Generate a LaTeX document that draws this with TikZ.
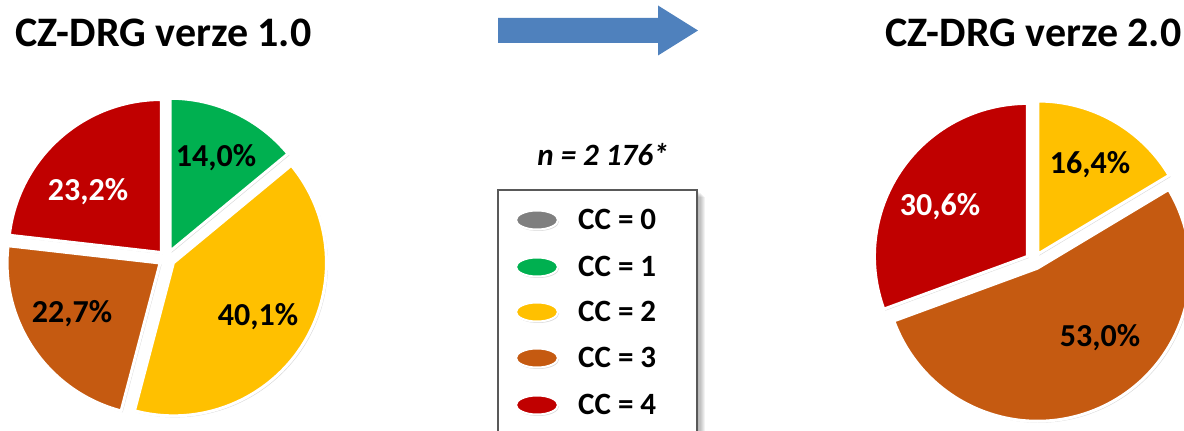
\documentclass[tikz,border=0pt]{standalone}
\usepackage{fontspec}
\setmainfont{Carlito}
\usetikzlibrary{shadows,shapes.geometric}
\definecolor{cgreen}{HTML}{00B050}
\definecolor{cyellow}{HTML}{FFC000}
\definecolor{corange}{HTML}{C55A11}
\definecolor{cred}{HTML}{C00000}
\definecolor{cgray}{HTML}{7F7F7F}
\definecolor{carrow}{HTML}{4F81BD}
\definecolor{cborder}{HTML}{595959}
\tikzset{
  slicestyle/.style={draw=white, line width=3pt, line join=miter,
    drop shadow={shadow xshift=1.5pt, shadow yshift=-1.5pt, opacity=0.3}},
  pct/.style={font=\fontsize{32}{34}\selectfont\bfseries, text=black, inner sep=0pt},
  pctw/.style={pct, text=white},
  ttl/.style={font=\fontsize{42}{46}\selectfont\bfseries, anchor=base west, inner sep=0pt},
  legtxt/.style={font=\fontsize{31}{34}\selectfont\bfseries, anchor=base west, inner sep=0pt},
  legdot/.style={ellipse, draw=white, line width=2pt, minimum width=42pt, minimum height=19pt, inner sep=0pt,
    drop shadow={shadow xshift=1pt, shadow yshift=-1.5pt, opacity=0.3}},
}
\newcommand{\pieslice}[5]{%
  \pgfmathsetmacro\midang{(#3+#4)/2}%
  \begin{scope}[shift={(#1,#2)}, shift={(\midang:8)}]
    \filldraw[slicestyle, fill=#5] (0,0) -- (#3:153) arc[start angle=#3, end angle=#4, radius=153] -- cycle;
  \end{scope}}
\begin{document}
\begin{tikzpicture}[x=1pt,y=1pt]
\useasboundingbox (0,0) rectangle (1184,431);
\clip (0,0) rectangle (1184,431);
\fill[white] (0,0) rectangle (1184,431);
% titles
\node[ttl] (t1) at (15,384) {CZ-DRG verze 1.0};
\node[ttl] (t2) at (885,384) {CZ-DRG verze 2.0};
% arrow
\fill[carrow] (498,388) -- (658,388) -- (658,375.5) -- (698,400.5) -- (658,425.5) -- (658,413) -- (498,413) -- cycle;
% left pie
\pieslice{166.7}{172.5}{39.6}{90}{cgreen}
\pieslice{166.7}{172.5}{-104.76}{39.6}{cyellow}
\pieslice{166.7}{172.5}{173.52}{255.24}{corange}
\pieslice{166.7}{172.5}{90}{173.52}{cred}
\node[pct]  (l1) at (216,273) {14,0\%};
\node[pctw] (l4) at (88,239) {23,2\%};
\node[pct]  (l3) at (72,117) {22,7\%};
\node[pct]  (l2) at (258,114) {40,1\%};
% right pie
\pieslice{1034}{170}{30.96}{90}{cyellow}
\pieslice{1034}{170}{-159.84}{30.96}{corange}
\pieslice{1034}{170}{90}{200.16}{cred}
\node[pct]  (r2) at (1090,266) {16,4\%};
\node[pctw] (r4) at (940,224) {30,6\%};
\node[pct]  (r3) at (1100,93) {53,0\%};
% legend
\node[font=\fontsize{31}{33}\selectfont\bfseries\itshape, anchor=base, inner sep=0pt] (n) at (603,265) {n = 2 176*};
\foreach \i in {1,...,7}{
  \fill[black, opacity=0.05] (498+\i*1.2,241-\i*1.0) rectangle (697+\i*1.2,-20);
}
\draw[cborder, line width=1.2pt, fill=white] (498,241) rectangle (697,-20);
\node[legdot, fill=cgray]   (d0) at (537,211) {};
\node[legdot, fill=cgreen]  (d1) at (537,164) {};
\node[legdot, fill=cyellow] (d2) at (537,119) {};
\node[legdot, fill=corange] (d3) at (537,73) {};
\node[legdot, fill=cred]    (d4) at (537,26) {};
\node[legtxt] (c0) at (578,201) {CC = 0};
\node[legtxt] (c1) at (578,154) {CC = 1};
\node[legtxt] (c2) at (578,109) {CC = 2};
\node[legtxt] (c3) at (578,63) {CC = 3};
\node[legtxt] (c4) at (578,16) {CC = 4};
\end{tikzpicture}
\end{document}
